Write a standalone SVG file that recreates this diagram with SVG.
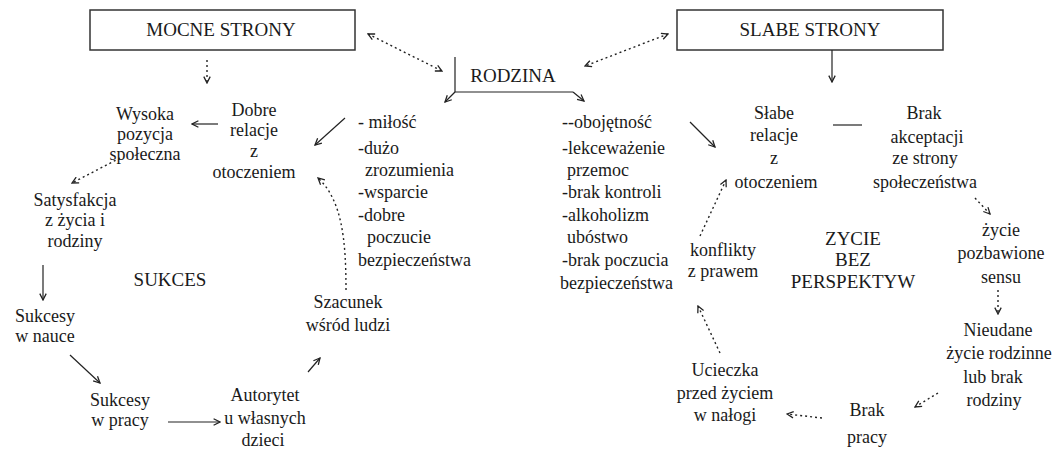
<svg xmlns="http://www.w3.org/2000/svg" width="1052" height="450" viewBox="0 0 1052 450">
<style>
text{font-family:"Liberation Serif","Times New Roman",serif;font-size:18px;fill:#1a1a1a}
.c{text-anchor:middle}
.t{font-size:19px}
.box{fill:#fff;stroke:#333;stroke-width:1.5}
.ln{fill:none;stroke:#222;stroke-width:1.2}
.dt{fill:none;stroke:#222;stroke-width:1.4;stroke-dasharray:2 3}
</style>
<defs>
<marker id="ah" viewBox="0 0 10 10" refX="9" refY="5" markerWidth="8" markerHeight="8" markerUnits="userSpaceOnUse" orient="auto-start-reverse">
<path d="M1,1 L9,5 L1,9" fill="none" stroke="#222" stroke-width="1.6"/>
</marker>
</defs>
<g id="mocne"><rect class="box" x="90" y="10" width="265" height="40"/><text class="c t" x="221" y="36">MOCNE STRONY</text></g>
<g id="slabe"><rect class="box" x="677" y="10" width="266" height="40"/><text class="c t" x="810" y="36">SLABE STRONY</text></g>
<g id="rodzina"><text class="c t" x="513" y="82">RODZINA</text></g>
<g id="wysoka"><text class="c" x="145" y="120">Wysoka</text><text class="c" x="145" y="140">pozycja</text><text class="c" x="145" y="160">społeczna</text></g>
<g id="dobre"><text class="c" x="254" y="116">Dobre</text><text class="c" x="254" y="136">relacje</text><text class="c" x="254" y="157">z</text><text class="c" x="254" y="178">otoczeniem</text></g>
<g id="satysfakcja"><text class="c" x="75" y="206">Satysfakcja</text><text class="c" x="75" y="226">z życia i</text><text class="c" x="75" y="247">rodziny</text></g>
<g id="sukces"><text class="c t" x="170" y="286">SUKCES</text></g>
<g id="nauka"><text class="c" x="45" y="322">Sukcesy</text><text class="c" x="45" y="342">w nauce</text></g>
<g id="praca"><text class="c" x="120" y="406">Sukcesy</text><text class="c" x="120" y="426">w pracy</text></g>
<g id="autorytet"><text class="c" x="265" y="401">Autorytet</text><text class="c" x="265" y="424">u własnych</text><text class="c" x="263" y="446">dzieci</text></g>
<g id="szacunek"><text class="c" x="348" y="308">Szacunek</text><text class="c" x="348" y="331">wśród ludzi</text></g>
<g id="lista-mocne">
<text x="358" y="128">- miłość</text><text x="358" y="154">-dużo</text><text x="365" y="176">zrozumienia</text><text x="358" y="198">-wsparcie</text><text x="358" y="221">-dobre</text><text x="367" y="243">poczucie</text><text x="358" y="266">bezpieczeństwa</text>
</g>
<g id="lista-slabe">
<text x="562" y="128">--obojętność</text><text x="562" y="154">-lekceważenie</text><text x="567" y="176">przemoc</text><text x="562" y="198">-brak kontroli</text><text x="562" y="221">-alkoholizm</text><text x="567" y="243">ubóstwo</text><text x="562" y="266">-brak poczucia</text><text x="560" y="289">bezpieczeństwa</text>
</g>
<g id="slabe-relacje"><text class="c" x="774" y="119">Słabe</text><text class="c" x="774" y="141">relacje</text><text class="c" x="774" y="164">z</text><text class="c" x="776" y="188">otoczeniem</text></g>
<g id="brak-akceptacji"><text class="c" x="924" y="119">Brak</text><text class="c" x="927" y="143">akceptacji</text><text class="c" x="925" y="164">ze strony</text><text class="c" x="925" y="188">społeczeństwa</text></g>
<g id="zycie-sens"><text class="c" x="1001" y="236">życie</text><text class="c" x="1001" y="259">pozbawione</text><text class="c" x="1001" y="283">sensu</text></g>
<g id="nieudane"><text class="c" x="998" y="336">Nieudane</text><text class="c" x="999" y="359">życie rodzinne</text><text class="c" x="993" y="383">lub brak</text><text class="c" x="994" y="406">rodziny</text></g>
<g id="brak-pracy"><text class="c" x="867" y="416">Brak</text><text class="c" x="867" y="443">pracy</text></g>
<g id="ucieczka"><text class="c" x="725" y="376">Ucieczka</text><text class="c" x="725" y="399">przed życiem</text><text class="c" x="725" y="421">w nałogi</text></g>
<g id="konflikty"><text class="c" x="723" y="256">konflikty</text><text class="c" x="723" y="277">z prawem</text></g>
<g id="zycie-bez"><text class="c t" x="853" y="245">ZYCIE</text><text class="c t" x="853" y="266">BEZ</text><text class="c t" x="853" y="288">PERSPEKTYW</text></g>
<g id="connectors">
<line class="dt" x1="368" y1="34" x2="442" y2="71" marker-start="url(#ah)" marker-end="url(#ah)"/>
<line class="dt" x1="668" y1="34" x2="585" y2="66" marker-start="url(#ah)" marker-end="url(#ah)"/>
<polyline class="ln" points="455,57 455,92 573,92"/>
<line class="ln" x1="455" y1="92" x2="445" y2="102" marker-end="url(#ah)"/>
<line class="ln" x1="573" y1="92" x2="584" y2="101" marker-end="url(#ah)"/>
<line class="dt" x1="207" y1="60" x2="207" y2="83" marker-end="url(#ah)"/>
<line class="ln" x1="832" y1="50" x2="832" y2="82" marker-end="url(#ah)"/>
<line class="ln" x1="218" y1="124" x2="192" y2="124" marker-end="url(#ah)"/>
<line class="ln" x1="345" y1="118" x2="315" y2="145" marker-end="url(#ah)"/>
<line class="dt" x1="120" y1="158" x2="72" y2="183" marker-end="url(#ah)"/>
<line class="ln" x1="43" y1="265" x2="43" y2="300" marker-end="url(#ah)"/>
<line class="ln" x1="70" y1="355" x2="100" y2="383" marker-end="url(#ah)"/>
<line class="ln" x1="168" y1="422" x2="220" y2="422" marker-end="url(#ah)"/>
<line class="ln" x1="308" y1="372" x2="320" y2="358" marker-end="url(#ah)"/>
<path class="dt" d="M346,290 C346,240 342,200 318,178" marker-end="url(#ah)"/>
<line class="ln" x1="690" y1="122" x2="715" y2="147" marker-end="url(#ah)"/>
<line class="ln" x1="833" y1="125" x2="862" y2="125"/>
<line class="dt" x1="975" y1="198" x2="990" y2="214" marker-end="url(#ah)"/>
<line class="dt" x1="998" y1="290" x2="998" y2="314" marker-end="url(#ah)"/>
<line class="dt" x1="938" y1="393" x2="915" y2="407" marker-end="url(#ah)"/>
<line class="dt" x1="822" y1="418" x2="787" y2="414" marker-end="url(#ah)"/>
<line class="dt" x1="720" y1="353" x2="698" y2="306" marker-end="url(#ah)"/>
<line class="dt" x1="700" y1="236" x2="726" y2="180" marker-end="url(#ah)"/>
</g>
</svg>
